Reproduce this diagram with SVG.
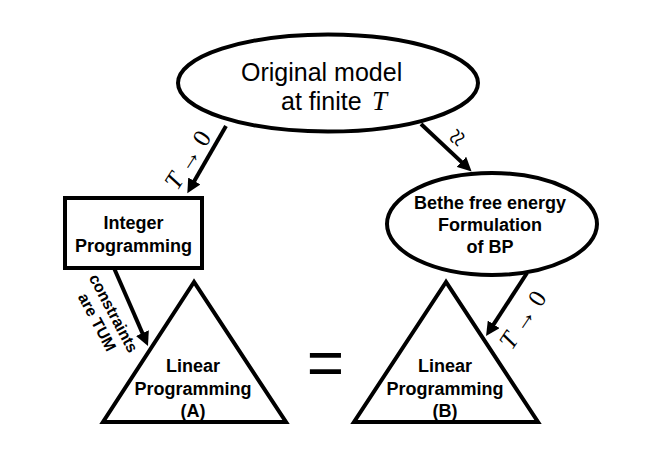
<svg xmlns="http://www.w3.org/2000/svg" width="654" height="462" viewBox="0 0 654 462">
<style>
.shape{fill:#fff;stroke:#000;stroke-width:4}
.conn{fill:none;stroke:#000;stroke-width:4}
.sans{font-family:"Liberation Sans",Arial,sans-serif;fill:#000}
.b{font-weight:bold;font-size:18px}
.math{font-family:"Liberation Serif","Times New Roman",serif;fill:#000}
</style>
<defs>
<marker id="ah" markerUnits="userSpaceOnUse" markerWidth="16" markerHeight="14" refX="4" refY="7" orient="auto">
<path d="M0,0 L14,7 L0,14 z" fill="#000"/>
</marker>
</defs>
<rect width="654" height="462" fill="#fff"/>
<g id="connectors">
<line class="conn" x1="226" y1="126" x2="192.3" y2="184.5" marker-end="url(#ah)"/>
<line class="conn" x1="421" y1="124" x2="464.3" y2="164.6" marker-end="url(#ah)"/>
<line class="conn" x1="114" y1="268" x2="144" y2="336.8" marker-end="url(#ah)"/>
<line class="conn" x1="527" y1="273" x2="491.5" y2="327.7" marker-end="url(#ah)"/>
<g transform="translate(188,160) rotate(-57)"><text class="math" x="0" y="8" font-size="25" text-anchor="middle"><tspan font-style="italic">T</tspan> → 0</text></g>
<g transform="translate(458,138) rotate(-55)"><text class="math" x="0" y="9" font-size="30" text-anchor="middle">≈</text></g>
<g transform="translate(523,320) rotate(-56)"><text class="math" x="0" y="8" font-size="25" text-anchor="middle"><tspan font-style="italic">T</tspan> → 0</text></g>
<g transform="translate(114,313) rotate(62)" class="sans" font-weight="bold" font-size="16"><text x="0" y="6" text-anchor="middle">constraints</text><text x="0" y="24.6" text-anchor="middle">are TUM</text></g>
</g>
<g id="original">
<ellipse class="shape" cx="328" cy="83" rx="150" ry="48.5"/>
<text class="sans" x="241" y="81" font-size="25">Original model</text>
<text class="sans" x="281" y="110" font-size="25">at finite</text>
<text class="math" x="372" y="110" font-size="27" font-style="italic">T</text>
</g>
<g id="integer">
<rect class="shape" x="65" y="198" width="137" height="70"/>
<text class="sans b" x="133.5" y="229" text-anchor="middle">Integer</text>
<text class="sans b" x="133.5" y="252" text-anchor="middle">Programming</text>
</g>
<g id="bethe">
<ellipse class="shape" cx="492" cy="224" rx="105" ry="51"/>
<text class="sans b" x="490" y="209" text-anchor="middle">Bethe free energy</text>
<text class="sans b" x="490" y="231" text-anchor="middle">Formulation</text>
<text class="sans b" x="490" y="253" text-anchor="middle">of BP</text>
</g>
<g id="lpA">
<polygon class="shape" points="194,282 103,422 286,422"/>
<text class="sans b" x="193" y="372" text-anchor="middle">Linear</text>
<text class="sans b" x="193" y="395" text-anchor="middle">Programming</text>
<text class="sans b" x="193" y="417" text-anchor="middle">(A)</text>
</g>
<g id="lpB">
<polygon class="shape" points="446,282 354,422 538,422"/>
<text class="sans b" x="445" y="372" text-anchor="middle">Linear</text>
<text class="sans b" x="445" y="395" text-anchor="middle">Programming</text>
<text class="sans b" x="445" y="417" text-anchor="middle">(B)</text>
</g>
<g id="equals">
<text class="sans" x="325.5" y="385" font-size="64" text-anchor="middle">=</text>
</g>
</svg>
